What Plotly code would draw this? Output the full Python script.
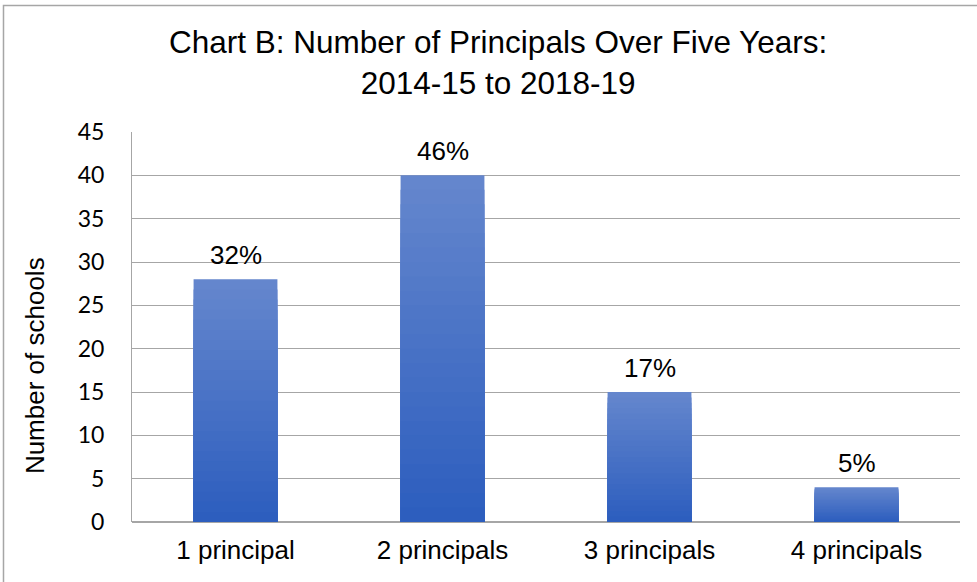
import plotly.graph_objects as go

categories = ["1 principal", "2 principals", "3 principals", "4 principals"]
schools = [28, 40, 15, 4]
pct_labels = ["32%", "46%", "17%", "5%"]
y_ticks = [0, 5, 10, 15, 20, 25, 30, 35, 40, 45]

top_rgb = (100, 134, 205)
bot_rgb = (45, 94, 190)
N = 24

fig = go.Figure()
for k in range(N):
    frac = 1 - k / N
    t = k / (N - 1)
    c = tuple(round(top_rgb[i] + (bot_rgb[i] - top_rgb[i]) * t) for i in range(3))
    fig.add_trace(go.Bar(
        x=categories,
        y=[v * frac for v in schools],
        marker=dict(color="rgb(%d,%d,%d)" % c, line=dict(width=0)),
        width=0.405,
        hoverinfo="skip",
        showlegend=False,
    ))

for cat, v, lab in zip(categories, schools, pct_labels):
    fig.add_annotation(x=cat, y=v, text=lab, showarrow=False, yanchor="bottom",
                       yshift=7, font=dict(size=26, color="#000000"))

# chart title
fig.add_annotation(xref="paper", yref="paper", x=0.442, y=1.177, xanchor="center",
                   yanchor="middle", showarrow=False,
                   text="Chart B: Number of Principals Over Five Years:<br>2014-15 to 2018-19",
                   font=dict(size=31.5, color="#000000"))
# y axis title
fig.add_annotation(xref="paper", yref="paper", x=-0.117, y=0.40, xanchor="center",
                   yanchor="middle", showarrow=False, textangle=-90,
                   text="Number of schools", font=dict(size=26, color="#000000"))

fig.add_shape(type="rect", xref="paper", yref="paper",
              x0=-0.1552, x1=1.05, y0=-0.2, y1=1.3244,
              line=dict(color="#a6a6a6", width=1.5), fillcolor="rgba(0,0,0,0)", layer="below")

fig.update_layout(
    width=977, height=582,
    barmode="overlay",
    paper_bgcolor="white", plot_bgcolor="white",
    margin=dict(l=132, r=17, t=132, b=60, autoexpand=False),
    font=dict(family="Liberation Sans, Arial, sans-serif", color="#000000"),
    xaxis=dict(showgrid=False, showline=False, ticks="", tickfont=dict(size=26),
               ticklabelstandoff=10, automargin=False),
    yaxis=dict(range=[0, 45], tickvals=y_ticks, showgrid=True, gridcolor="#a6a6a6",
               gridwidth=1, zeroline=True, zerolinecolor="#a6a6a6", showline=True,
               linecolor="#a6a6a6", linewidth=1, ticks="", automargin=False,
               tickfont=dict(size=23, family="Lato, sans-serif"),
               ticklabelstandoff=22),
)

fig.write_html("out.html", config={"displayModeBar": False},
               post_script="document.body.style.margin='0';")
